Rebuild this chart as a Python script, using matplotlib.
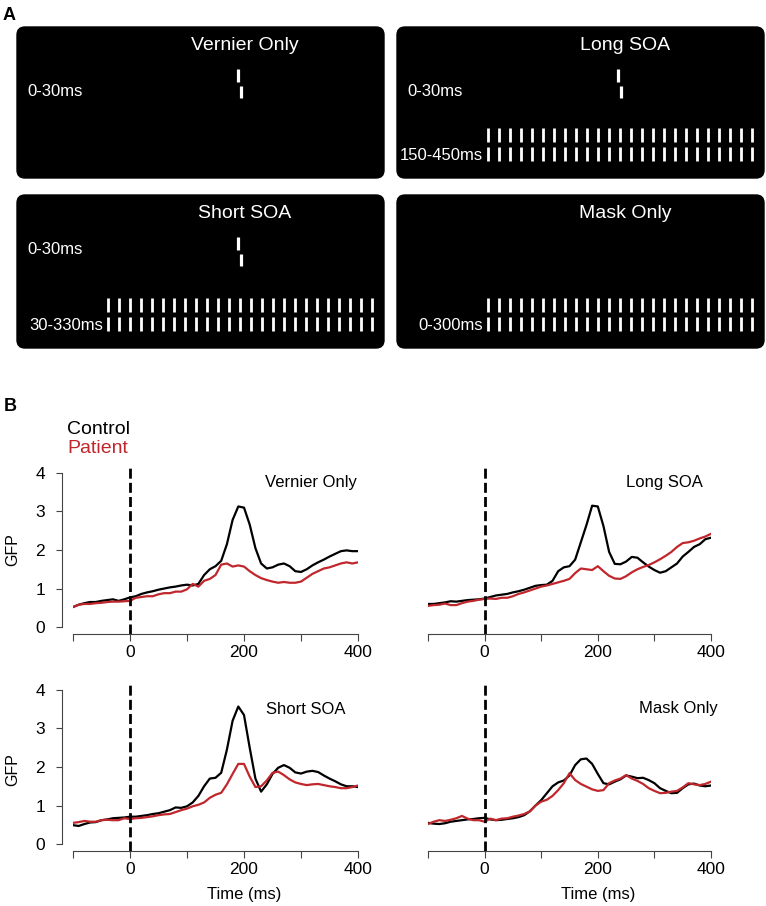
import numpy as np
import matplotlib
matplotlib.use("Agg")
import matplotlib.pyplot as plt
from matplotlib.patches import FancyBboxPatch

plt.rcParams['font.family'] = ['Liberation Sans', 'DejaVu Sans']

# ---- data ----
conditions = ["Vernier Only", "Long SOA", "Short SOA", "Mask Only"]
vernier_time = "0-30ms"
mask_times = [None, "150-450ms", "30-330ms", "0-300ms"]
n_mask_bars = 25

time_ms = np.arange(-100, 401, 10)

vernier_control = [0.52, 0.58, 0.62, 0.65, 0.65, 0.68, 0.70, 0.72, 0.68, 0.72,
                   0.77, 0.80, 0.86, 0.90, 0.93, 0.97, 1.00, 1.03, 1.05, 1.08,
                   1.10, 1.08, 1.12, 1.35, 1.50, 1.58, 1.72, 2.15, 2.78, 3.13,
                   3.10, 2.66, 2.05, 1.65, 1.52, 1.55, 1.62, 1.65, 1.58, 1.45,
                   1.43, 1.50, 1.60, 1.68, 1.75, 1.83, 1.90, 1.97, 1.99, 1.97,
                   1.97]
vernier_patient = [0.52, 0.58, 0.60, 0.60, 0.62, 0.63, 0.65, 0.66, 0.66, 0.67,
                   0.68, 0.76, 0.78, 0.80, 0.80, 0.85, 0.88, 0.88, 0.92, 0.92,
                   0.98, 1.12, 1.05, 1.20, 1.25, 1.35, 1.62, 1.65, 1.57, 1.60,
                   1.57, 1.45, 1.35, 1.27, 1.22, 1.18, 1.15, 1.17, 1.15, 1.15,
                   1.18, 1.28, 1.38, 1.45, 1.52, 1.55, 1.60, 1.65, 1.68, 1.65,
                   1.68]

long_control = [0.60, 0.60, 0.62, 0.64, 0.67, 0.66, 0.68, 0.70, 0.71, 0.72,
                0.74, 0.78, 0.82, 0.84, 0.86, 0.90, 0.93, 0.97, 1.02, 1.07,
                1.09, 1.10, 1.20, 1.45, 1.55, 1.58, 1.75, 2.20, 2.65, 3.15,
                3.13, 2.62, 1.95, 1.64, 1.63, 1.70, 1.82, 1.80, 1.68, 1.57,
                1.48, 1.41, 1.45, 1.55, 1.65, 1.83, 1.95, 2.08, 2.15, 2.28,
                2.32]
long_patient = [0.55, 0.57, 0.58, 0.61, 0.57, 0.57, 0.62, 0.66, 0.68, 0.71,
                0.73, 0.74, 0.73, 0.76, 0.76, 0.80, 0.86, 0.90, 0.95, 1.00,
                1.05, 1.08, 1.12, 1.16, 1.20, 1.25, 1.40, 1.52, 1.50, 1.48,
                1.58, 1.45, 1.33, 1.26, 1.25, 1.32, 1.42, 1.50, 1.56, 1.61,
                1.68, 1.76, 1.85, 1.95, 2.08, 2.18, 2.20, 2.24, 2.30, 2.35,
                2.42]

short_control = [0.49, 0.47, 0.52, 0.56, 0.57, 0.62, 0.64, 0.67, 0.68, 0.69,
                 0.71, 0.71, 0.73, 0.75, 0.78, 0.80, 0.84, 0.88, 0.95, 0.94,
                 0.98, 1.08, 1.25, 1.50, 1.70, 1.72, 1.85, 2.45, 3.20, 3.57,
                 3.35, 2.50, 1.70, 1.36, 1.55, 1.82, 1.98, 2.05, 1.98, 1.86,
                 1.83, 1.88, 1.90, 1.87, 1.78, 1.70, 1.63, 1.55, 1.50, 1.50,
                 1.48]
short_patient = [0.55, 0.57, 0.60, 0.58, 0.58, 0.62, 0.63, 0.62, 0.62, 0.67,
                 0.65, 0.67, 0.68, 0.70, 0.72, 0.75, 0.77, 0.78, 0.83, 0.88,
                 0.92, 0.98, 1.02, 1.08, 1.20, 1.28, 1.33, 1.55, 1.82, 2.08,
                 2.08, 1.75, 1.48, 1.50, 1.65, 1.85, 1.88, 1.79, 1.68, 1.60,
                 1.56, 1.53, 1.55, 1.56, 1.53, 1.50, 1.48, 1.45, 1.45, 1.48,
                 1.52]

mask_control = [0.55, 0.53, 0.52, 0.54, 0.58, 0.60, 0.62, 0.64, 0.65, 0.67,
                0.68, 0.64, 0.62, 0.63, 0.65, 0.67, 0.70, 0.75, 0.85, 1.00,
                1.14, 1.32, 1.50, 1.60, 1.65, 1.78, 2.05, 2.20, 2.22, 2.08,
                1.82, 1.58, 1.55, 1.62, 1.68, 1.78, 1.75, 1.71, 1.72, 1.66,
                1.58, 1.45, 1.38, 1.32, 1.33, 1.45, 1.55, 1.57, 1.52, 1.50,
                1.52]
mask_patient = [0.52, 0.58, 0.62, 0.60, 0.63, 0.67, 0.73, 0.66, 0.62, 0.62,
                0.58, 0.66, 0.62, 0.66, 0.67, 0.71, 0.74, 0.78, 0.85, 1.00,
                1.10, 1.15, 1.25, 1.40, 1.58, 1.84, 1.66, 1.56, 1.49, 1.42,
                1.38, 1.40, 1.58, 1.65, 1.70, 1.79, 1.70, 1.64, 1.56, 1.45,
                1.38, 1.32, 1.33, 1.36, 1.38, 1.47, 1.58, 1.55, 1.53, 1.56,
                1.62]

controls = [vernier_control, long_control, short_control, mask_control]
patients = [vernier_patient, long_patient, short_patient, mask_patient]

red = '#c0272d'

# ---- figure ----
W, H = 766, 906
fig = plt.figure(figsize=(W / 100, H / 100), dpi=100)


def px_rect(l, t, r, b):
    return [l / W, 1 - b / H, (r - l) / W, (b - t) / H]


# panel A: stimulus sketches drawn in pixel coordinates
axa = fig.add_axes([0, 0, 1, 1], zorder=0)
axa.set_xlim(0, W)
axa.set_ylim(H, 0)
axa.axis('off')

boxes = [(17, 27, 384, 178), (397, 27, 764, 178),
         (17, 195, 384, 348), (397, 195, 764, 348)]

for i, (l, t, r, b) in enumerate(boxes):
    axa.add_patch(FancyBboxPatch((l, t), r - l, b - t,
                                 boxstyle="round,pad=0,rounding_size=8",
                                 fc='black', ec='black'))
    axa.text(l + 228, t + 19, conditions[i], color='white', fontsize=14,
             ha='center', va='center')
    if i != 3:
        # vernier
        vx = l + 221
        axa.vlines(vx, t + 42, t + 55, color='white', lw=2.3)
        axa.vlines(vx + 3, t + 59, t + 71, color='white', lw=2.3)
        axa.text(l + 10, t + 64 if i < 2 else t + 55, vernier_time,
                 color='white', fontsize=12, ha='left', va='center')
    if mask_times[i] is not None:
        xs = l + 91 + 11 * np.arange(n_mask_bars)
        axa.vlines(xs, b - 50, b - 36, color='white', lw=2.0)
        axa.vlines(xs, b - 31, b - 17, color='white', lw=2.0)
        axa.text(l + 86, b - 22, mask_times[i], color='white', fontsize=12,
                 ha='right', va='center')

fig.text(3 / W, 1 - 15 / H, "A", fontsize=13, fontweight='bold',
         ha='left', va='center')
fig.text(4 / W, 1 - 406 / H, "B", fontsize=13, fontweight='bold',
         ha='left', va='center')
fig.text(67 / W, 1 - 430 / H, "Control", fontsize=14, color='black',
         ha='left', va='center')
fig.text(67 / W, 1 - 448 / H, "Patient", fontsize=14, color=red,
         ha='left', va='center')

# panel B: GFP traces
rects = [(73, 466, 358, 634), (428, 466, 711, 634),
         (73, 683, 358, 851), (428, 683, 711, 851)]
title_pos = [(318, 3.74), (318, 3.74), (309, 3.48), (342, 3.52)]

for i in range(4):
    ax = fig.add_axes(px_rect(*rects[i]), zorder=2)
    ax.patch.set_visible(False)
    ax.plot(time_ms, controls[i], color='black', lw=1.6)
    ax.plot(time_ms, patients[i], color=red, lw=1.6)
    ax.axvline(0, color='black', lw=2.0, dashes=(3.6, 1.5))
    ax.set_xlim(-100, 400)
    ax.set_ylim(-0.18, 4.18)
    ax.text(title_pos[i][0], title_pos[i][1], conditions[i], fontsize=12,
            ha='center', va='center', clip_on=False)

    for s in ['top', 'right']:
        ax.spines[s].set_visible(False)
    ax.spines['bottom'].set_bounds(-100, 400)
    ax.spines['bottom'].set_color('#444444')
    ax.spines['bottom'].set_linewidth(0.8)
    ax.set_xticks([-100, 0, 100, 200, 300, 400])
    ax.set_xticklabels(['', '0', '', '200', '', '400'])
    ax.tick_params(axis='x', length=5, width=0.8, color='#444444',
                   labelsize=12.5, pad=3)

    if i % 2 == 0:
        ax.spines['left'].set_bounds(0, 4)
        ax.spines['left'].set_position(('outward', 8))
        ax.spines['left'].set_color('#444444')
        ax.spines['left'].set_linewidth(0.8)
        ax.set_yticks([0, 1, 2, 3, 4])
        ax.tick_params(axis='y', length=4, width=0.8, color='#444444',
                       labelsize=12.5, pad=8)
    else:
        ax.spines['left'].set_visible(False)
        ax.set_yticks([])

# axis labels placed in figure pixels
fig.text(13 / W, 1 - 550 / H, "GFP", fontsize=11.5, rotation=90,
         ha='center', va='center')
fig.text(13 / W, 1 - 770 / H, "GFP", fontsize=11.5, rotation=90,
         ha='center', va='center')
fig.text(244 / W, 1 - 895 / H, "Time (ms)", fontsize=12,
         ha='center', va='center')
fig.text(598 / W, 1 - 895 / H, "Time (ms)", fontsize=12,
         ha='center', va='center')

fig.savefig("out.png", dpi=100)
